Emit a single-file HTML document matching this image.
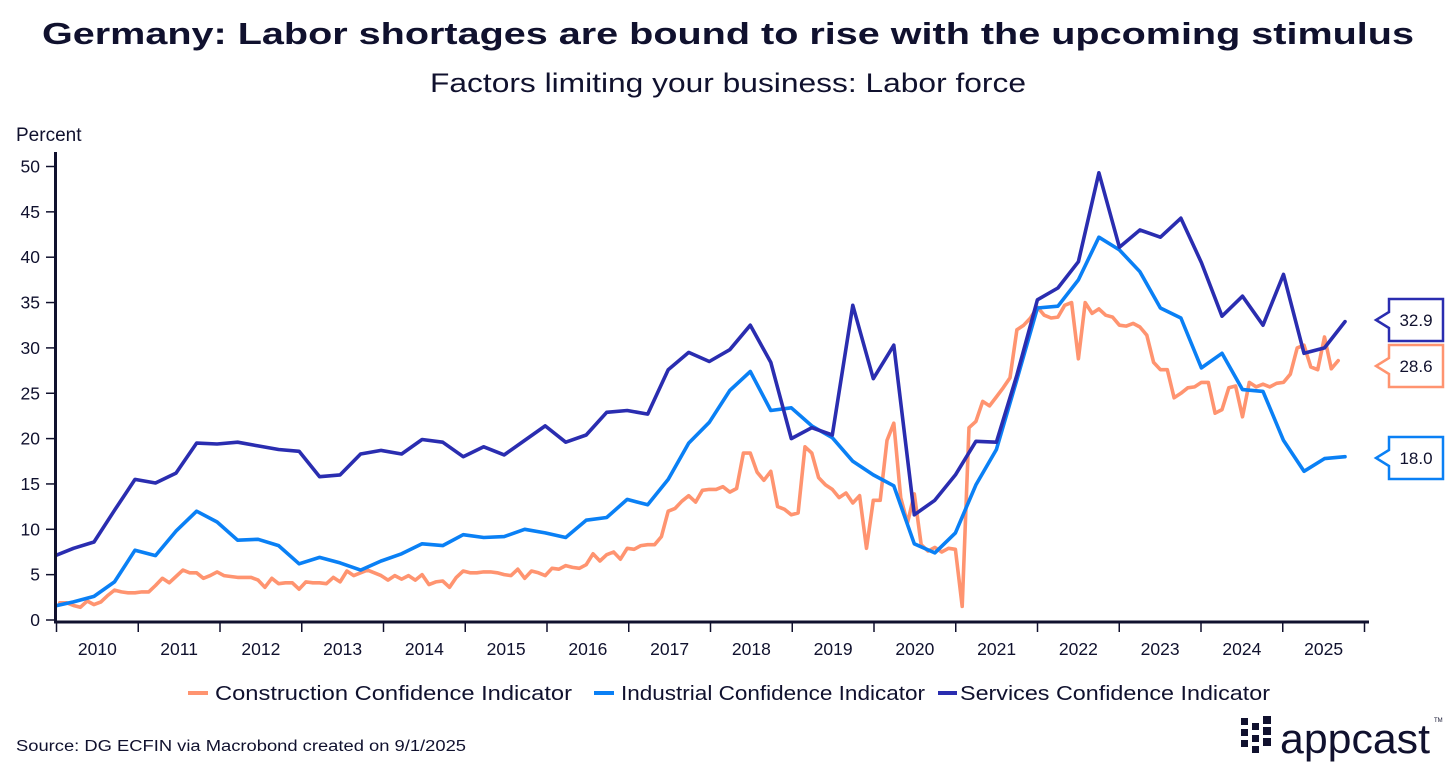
<!DOCTYPE html>
<html><head><meta charset="utf-8"><style>
html,body{margin:0;padding:0;background:#fff;}
svg{display:block;font-family:"Liberation Sans",sans-serif;}
</style></head><body>
<svg id="chart" width="1456" height="772" viewBox="0 0 1456 772" xmlns="http://www.w3.org/2000/svg">
<text x="728" y="44" text-anchor="middle" font-size="31" font-weight="bold" fill="#10112e" textLength="1372" lengthAdjust="spacingAndGlyphs">Germany: Labor shortages are bound to rise with the upcoming stimulus</text>
<text x="728" y="92" text-anchor="middle" font-size="27" fill="#10112e" textLength="596" lengthAdjust="spacingAndGlyphs">Factors limiting your business: Labor force</text>
<text x="16" y="141" font-size="19" fill="#10112e">Percent</text>
<g id="yaxis"></g>
<g id="xaxis"></g>
<defs><clipPath id="plotclip"><rect x="57" y="140" width="1320" height="490"/></clipPath></defs>
<g id="series" clip-path="url(#plotclip)"></g>
<g id="labels"></g>
<g>
 <g><line x1="188" y1="693" x2="208" y2="693" stroke="#ff9470" stroke-width="4"/><text x="215" y="700" font-size="20" fill="#10112e" textLength="357" lengthAdjust="spacingAndGlyphs">Construction Confidence Indicator</text></g>
 <g><line x1="594" y1="693" x2="614" y2="693" stroke="#0a80f5" stroke-width="4"/><text x="621" y="700" font-size="20" fill="#10112e" textLength="304" lengthAdjust="spacingAndGlyphs">Industrial Confidence Indicator</text></g>
 <g><line x1="938" y1="693" x2="957" y2="693" stroke="#2a2db0" stroke-width="4"/><text x="960" y="700" font-size="20" fill="#10112e" textLength="310" lengthAdjust="spacingAndGlyphs">Services Confidence Indicator</text></g>
</g>
<text x="16" y="751" font-size="15.5" fill="#10112e" textLength="450" lengthAdjust="spacingAndGlyphs">Source: DG ECFIN via Macrobond created on 9/1/2025</text>
<g fill="#10112e">
 <rect x="1241" y="718" width="7" height="7"/><rect x="1241" y="729" width="7" height="7"/><rect x="1241" y="740" width="7" height="7"/>
 <rect x="1252" y="723" width="7" height="7"/><rect x="1252" y="735" width="7" height="7"/><rect x="1252" y="746" width="7" height="7"/>
 <rect x="1263" y="716" width="8" height="8"/><rect x="1263" y="727" width="8" height="8"/><rect x="1263" y="738" width="8" height="8"/>
 <text x="1280" y="753" font-size="42" fill="#10112e" textLength="150" lengthAdjust="spacingAndGlyphs">appcast</text>
 <text x="1434" y="722" font-size="6" fill="#10112e">TM</text>
</g>
</svg>
<script>
const yTicks=[0,5,10,15,20,25,30,35,40,45,50];
const years=["2010","2011","2012","2013","2014","2015","2016","2017","2018","2019","2020","2021","2022","2023","2024","2025"];
const services=[7.0,7.9,8.6,12.1,15.5,15.1,16.2,19.5,19.4,19.6,19.2,18.8,18.6,15.8,16.0,18.3,18.7,18.3,19.9,19.6,18.0,19.1,18.2,19.8,21.4,19.6,20.4,22.9,23.1,22.7,27.6,29.5,28.5,29.8,32.5,28.4,20.0,21.2,20.4,34.7,26.6,30.3,11.6,13.2,16.0,19.7,19.6,27.0,35.3,36.6,39.5,49.3,41.1,43.0,42.2,44.3,39.4,33.5,35.7,32.5,38.1,29.4,30.0,32.9];
const industrial=[1.5,2.0,2.6,4.2,7.7,7.1,9.8,12.0,10.8,8.8,8.9,8.2,6.2,6.9,6.3,5.5,6.5,7.3,8.4,8.2,9.4,9.1,9.2,10.0,9.6,9.1,11.0,11.3,13.3,12.7,15.5,19.5,21.8,25.3,27.4,23.1,23.4,21.4,20.1,17.5,16.0,14.8,8.4,7.4,9.6,14.9,18.8,26.5,34.4,34.6,37.5,42.2,40.8,38.4,34.4,33.3,27.8,29.4,25.4,25.2,19.8,16.4,17.8,18.0];
const construction=[1.9,1.9,1.6,1.4,2.1,1.7,2.0,2.7,3.3,3.1,3.0,3.0,
3.1,3.1,3.8,4.6,4.1,4.8,5.5,5.2,5.2,4.6,4.9,5.3,
4.9,4.8,4.7,4.7,4.7,4.4,3.6,4.6,4.0,4.1,4.1,3.4,
4.2,4.1,4.1,4.0,4.7,4.2,5.4,4.9,5.2,5.5,5.2,4.9,
4.4,4.9,4.5,4.9,4.4,5.0,3.9,4.2,4.3,3.6,4.7,5.4,
5.2,5.2,5.3,5.3,5.2,5.0,4.9,5.6,4.6,5.4,5.2,4.9,
5.7,5.6,6.0,5.8,5.7,6.1,7.3,6.5,7.2,7.5,6.7,7.9,
7.8,8.2,8.3,8.3,9.2,12.0,12.3,13.1,13.7,13.0,14.3,14.4,
14.4,14.7,14.1,14.5,18.4,18.4,16.3,15.4,16.4,12.5,12.2,11.6,
11.8,19.1,18.4,15.7,14.9,14.4,13.5,14.0,12.9,13.7,7.9,13.2,
13.2,19.8,21.7,13.5,10.7,13.9,8.3,7.6,8.0,7.5,7.9,7.8,
1.5,21.2,21.9,24.1,23.6,24.6,25.6,26.7,32.0,32.5,33.3,34.5,
33.6,33.3,33.4,34.7,35.0,28.8,35.0,33.8,34.3,33.6,33.4,32.5,
32.4,32.7,32.3,31.4,28.4,27.6,27.6,24.5,25.0,25.6,25.7,26.2,
26.2,22.8,23.2,25.6,25.8,22.4,26.2,25.7,26.0,25.7,26.1,26.2,
27.1,30.0,30.3,27.9,27.6,31.2,27.7,28.6];
const endValues=["32.9","28.6","18.0"];

const NS="http://www.w3.org/2000/svg";
function yS(v){return 620-9.07*v;}
function xM(m){return 53+6.836*m;}
function xTick(k){return 56.5+81.75*k;}
function mk(tag,attrs,parent){const e=document.createElementNS(NS,tag);for(const k in attrs)e.setAttribute(k,attrs[k]);parent.appendChild(e);return e;}

const ya=document.getElementById('yaxis');
const yl=mk('line',{x1:55.5,y1:152,x2:55.5,y2:623,stroke:'#10112e','stroke-width':3},ya);


yTicks.forEach(v=>{
  const t=mk('line',{x1:46,y1:yS(v),x2:54,y2:yS(v),stroke:'#10112e','stroke-width':1.5},ya);
  
  
  const tx=mk('text',{x:40,y:yS(v)+6,'text-anchor':'end','font-size':17.5,fill:'#10112e'},ya);
  tx.textContent=v;
  
  
});
const xa=document.getElementById('xaxis');
const xl=mk('line',{x1:54,y1:622,x2:1369,y2:622,stroke:'#10112e','stroke-width':3},xa);


for(let k=0;k<=years.length;k++){
  const t=mk('line',{x1:xTick(k),y1:622,x2:xTick(k),y2:632,stroke:'#10112e','stroke-width':1.5},xa);
  
  
}
years.forEach((y,k)=>{
  const tx=mk('text',{x:(xTick(k)+xTick(k+1))/2,y:655,'text-anchor':'middle','font-size':17.5,fill:'#10112e'},xa);
  tx.textContent=y;
  
  
});

const sg=document.getElementById('series');
function line(vals,step,start,color,name){
  const d=vals.map((v,i)=>(i?'L':'M')+xM(start+i*step).toFixed(1)+','+yS(v).toFixed(1)).join(' ');
  const p=mk('path',{d:d,fill:'none',stroke:color,'stroke-width':3.6,'stroke-linejoin':'round','stroke-linecap':'round'},sg);
  
  
}
line(construction,1,1,'#ff9470','construction-line');
line(industrial,3,0,'#0a80f5','industrial-line');
line(services,3,0,'#2a2db0','services-line');

const lg=document.getElementById('labels');
const lastVals=[services[services.length-1],construction[construction.length-1],industrial[industrial.length-1]];
const colors=['#2a2db0','#ff9470','#0a80f5'];
const centers=[320,366,458];
lastVals.forEach((v,i)=>{
  const c=centers[i],x0=1389,x1=1443,t=c-21,b=c+21;
  const p=mk('path',{d:`M${x0},${t} L${x1},${t} L${x1},${b} L${x0},${b} L${x0},${c+8} L1376,${c} L${x0},${c-8} Z`,fill:'#fff',stroke:colors[i],'stroke-width':2.5},lg);
  
  
  const tx=mk('text',{x:1416,y:c+6,'text-anchor':'middle','font-size':17,fill:'#10112e'},lg);
  tx.textContent=endValues[i];
  
  
});
</script>
</body></html>
